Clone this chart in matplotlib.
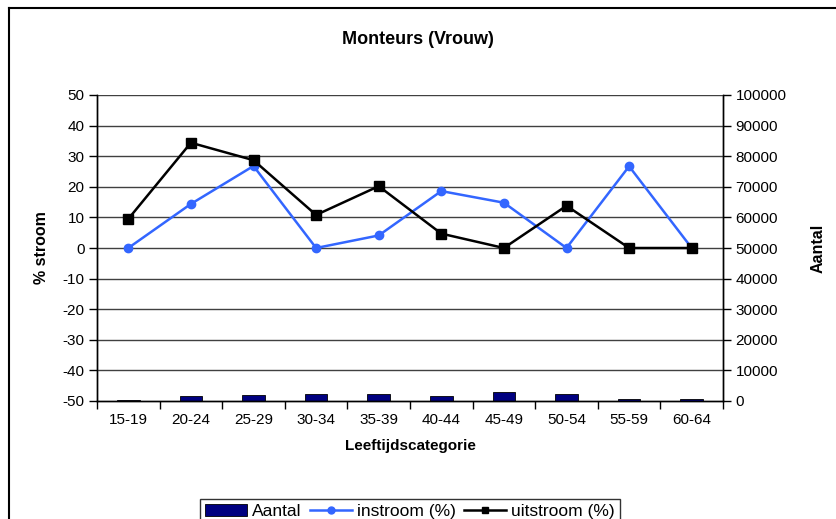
import numpy as np
import matplotlib.pyplot as plt
from matplotlib.patches import Patch
from matplotlib.lines import Line2D

plt.rcParams['font.family'] = ['Liberation Sans', 'DejaVu Sans']
plt.rcParams['axes.unicode_minus'] = False

categories = ["15-19", "20-24", "25-29", "30-34", "35-39",
              "40-44", "45-49", "50-54", "55-59", "60-64"]
aantal = [450, 1650, 2100, 2400, 2400, 1650, 3100, 2400, 500, 500]
instroom = [0, 14.4, 26.8, 0, 4.1, 18.6, 14.8, 0, 26.7, 0]
uitstroom = [9.5, 34.4, 28.7, 10.8, 20.2, 4.7, 0, 13.8, 0, 0]

W, H = 836, 519
fig = plt.figure(figsize=(W / 100, H / 100), dpi=100)

# plot area in pixels: left 97, right 723, top 95, bottom 401
ax = fig.add_axes([97 / W, 1 - 401 / H, (723 - 97) / W, (401 - 95) / H])
ax2 = ax.twinx()

x = np.arange(len(categories))

# bars on the right axis, drawn under the lines
ax2.bar(x, aantal, width=0.36, color="#000080", edgecolor="black", linewidth=0.6, zorder=2)
ax2.set_ylim(0, 100000)
ax2.set_yticks(np.arange(0, 100001, 10000))
ax2.set_ylabel("Aantal", fontsize=11.5, fontweight="bold", labelpad=17)

ax.set_zorder(ax2.get_zorder() + 1)
ax.patch.set_visible(False)
ax2.patch.set_visible(True)
ax2.patch.set_facecolor("white")

ax.plot(x, instroom, color="#3366ff", lw=1.8, marker="o", ms=6, zorder=3)
ax.plot(x, uitstroom, color="black", lw=1.8, marker="s", ms=6.5, zorder=4)

ax.set_xlim(-0.5, len(categories) - 0.5)
ax.set_ylim(-50, 50)
ax.set_yticks(np.arange(-50, 51, 10))
ax.set_xticks(x)
ax.set_xticklabels(categories)
ax.set_xticks(np.arange(-0.5, len(categories), 1), minor=True)
ax.tick_params(axis="x", which="major", length=0, labelsize=11, pad=9)
ax.tick_params(axis="x", which="minor", length=6, width=1, direction="out")
ax.tick_params(axis="y", length=6, width=1, direction="out", labelsize=11, pad=3)
ax2.tick_params(axis="y", length=6, width=1, direction="out", labelsize=11, pad=3)

# horizontal gridlines from the left axis
for v in np.arange(-40, 51, 10):
    ax.axhline(v, color="#404040", lw=1, zorder=1)

for a in (ax, ax2):
    for s in a.spines.values():
        s.set_linewidth(1)
        s.set_color("black")
ax.spines["top"].set_visible(False)
ax2.spines["top"].set_visible(False)

ax.set_ylabel("% stroom", fontsize=11.5, fontweight="bold", labelpad=10)
ax.set_xlabel("Leeftijdscategorie", fontsize=11, fontweight="bold", labelpad=8)
fig.text(0.5, 1 - 40 / H, "Monteurs (Vrouw)", ha="center", va="center",
         fontsize=13, fontweight="bold")

# chart frame (only left and top edges fall inside the image)
fig.add_artist(Line2D([9 / W, 9 / W], [0, 1 - 8 / H], color="black", lw=1.5,
                      transform=fig.transFigure))
fig.add_artist(Line2D([9 / W, 1], [1 - 8 / H, 1 - 8 / H], color="black", lw=1.5,
                      transform=fig.transFigure))

handles = [
    Patch(facecolor="#000080", edgecolor="black", linewidth=0.6),
    Line2D([], [], color="#3366ff", lw=1.8, marker="o", ms=5),
    Line2D([], [], color="black", lw=1.8, marker="s", ms=5),
]
leg = fig.legend(handles, ["Aantal", "instroom (%)", "uitstroom (%)"],
                 loc="upper center", bbox_to_anchor=(410 / W, 1 - 490 / H),
                 ncol=3, fontsize=12.5, frameon=True, fancybox=False,
                 edgecolor="black", handlelength=2.4, handletextpad=0.3,
                 columnspacing=0.5, borderpad=0.3)
leg.get_frame().set_linewidth(1)

fig.savefig("out.png", dpi=100)
